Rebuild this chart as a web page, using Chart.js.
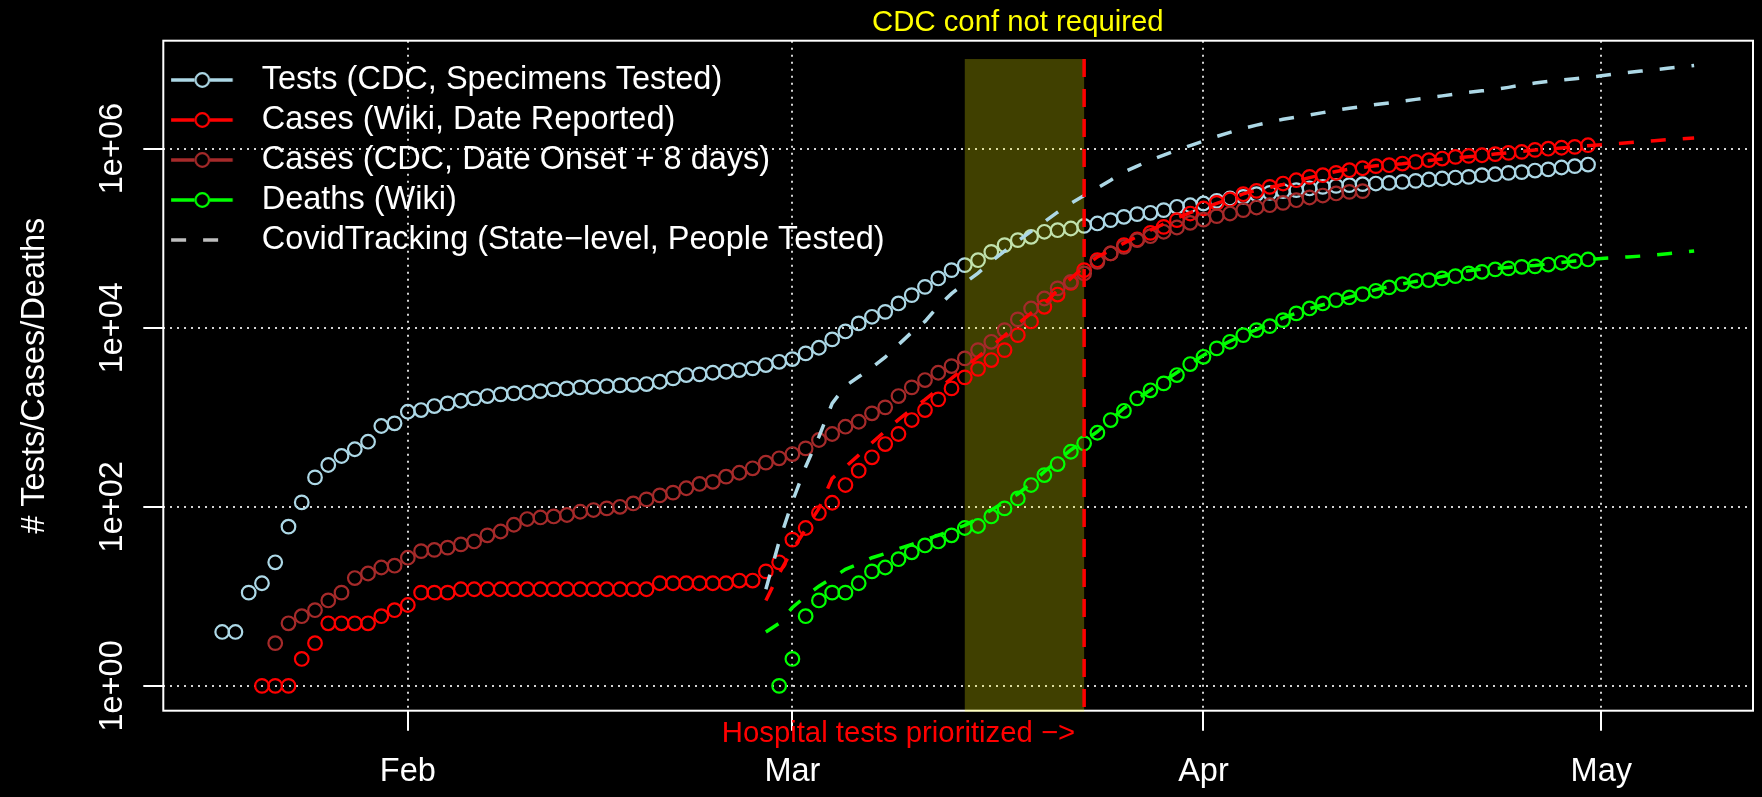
<!DOCTYPE html>
<html><head><meta charset="utf-8">
<script src="https://cdn.jsdelivr.net/npm/chart.js@4.4.1/dist/chart.umd.min.js"></script>
<style>html,body{margin:0;padding:0;background:#000;}canvas{display:block;}</style>
</head><body>
<canvas id="c" width="1762" height="797"></canvas>
<script>
const FONT = '"Liberation Sans", Arial, Helvetica, sans-serif';

// ---- axis ticks ----
const tickDates  = ['2020-02-01', '2020-03-01', '2020-04-01', '2020-05-01'];
const tickLabels = ['Feb', 'Mar', 'Apr', 'May'];
const yTickValues = [1, 100, 10000, 1000000];
const yTickLabels = ['1e+00', '1e+02', '1e+04', '1e+06'];

// ---- series (daily values, starting at the given date) ----
const testsStart = '2020-01-18';
const testsCDC = [4, 4, 11, 14, 24, 60, 112, 213, 293, 369, 439, 533, 798, 855,
  1152, 1203, 1333, 1429, 1528, 1625, 1725, 1802, 1849, 1877, 1960, 2048, 2100, 2157, 2188, 2228, 2269, 2304, 2348,
  2490, 2716, 2958, 3013, 3139, 3220, 3364, 3514, 3826, 4160,
  4462, 5166, 5970, 7400, 9080, 11170, 13240, 15030, 18660, 23120, 28580, 35480, 43950, 50000, 56750, 70310, 83560, 95060, 103500, 117800, 122700, 128200, 137100,
  145900, 158900, 173000, 185400, 191900, 205600, 223900, 233300,
  243800, 260600, 277300, 289100, 309700, 320600, 335000, 343600, 358900, 374100,
  383700, 390800, 400900, 407400, 414000, 424600, 436500, 451900, 463400, 475300,
  483100, 504700, 517600, 535800, 545800, 568900, 586100, 615200, 636800, 663700];

const casesWikiStart = '2020-01-21';
const casesWiki = [1, 1, 1, 2, 3, 5, 5, 5, 5, 6, 7,
  8, 11, 11, 11,
  12, 12, 12, 12, 12, 12, 12, 12, 12, 12, 12, 12, 12, 12, 12,
  14, 14, 14, 14, 14, 14,
  15, 15, 19, 24,
  43, 58, 85, 111, 175, 253, 357, 502, 650, 931, 1203, 1584, 2100, 2788,
  3470, 4350, 5620, 8260, 11750, 17100, 23440, 31620,
  43950, 56750, 67450, 83560, 96600, 114600, 133700, 158900, 188400, 214300,
  247700, 270400, 309700, 337300, 374100, 407400, 443600, 483100, 504700, 535800,
  574100, 603900, 636800, 653100, 680800, 711200, 743000, 774500, 809100, 829900,
  843400, 867000, 895400, 918400, 968300, 997700, 1023000, 1045000, 1091000];

const casesCDCStart = '2020-01-22';
const casesCDC = [3, 5, 6, 7, 9, 11, 16, 18, 21, 22,
  27, 32, 33, 35, 38, 41, 48, 53, 63, 73,
  76, 78, 81, 88, 92, 96, 100, 109, 121, 134,
  144, 161, 180, 190, 217, 240, 269, 311, 348, 388,
  449, 557, 650, 784, 891, 1106, 1290, 1725, 2157, 2602,
  3139, 3727, 4540, 5620, 6960, 9400, 12380, 16400, 21200, 27500,
  32500, 40360, 54450, 67450, 79980, 95060, 105200, 117800, 131500, 148300,
  161400, 176200, 188400, 205600, 219800, 233300, 247700, 265500, 284400, 299200,
  315500, 328900, 335000];

const deathsStart = '2020-02-29';
const deathsWiki = [1, 2, 6, 9, 11, 11, 14, 19, 21, 26,
  31, 37, 41, 48, 58, 61, 78, 96, 124, 175,
  226, 300, 412, 511, 671, 930, 1180, 1625, 2000, 2388,
  2958, 3926, 4732, 5875, 6962, 8267, 9397, 10420, 12160, 14450,
  16410, 18660, 20330, 21790, 23710, 25820, 28180, 30690, 33370, 33970,
  35480, 37670, 40380, 42070, 44770, 45920, 47840, 48420, 50700, 53090,
  55340, 57810];

const ctStart = '2020-02-28';
const ctTests = [12, 41, 114, 280, 606, 1430, 2230, 2830, 3600, 4680,
  6460, 8900, 11750, 17400, 24000, 31600, 40700, 55100, 71600, 92700,
  119000, 152000, 195000, 245000, 299000, 363000, 444000, 550000, 638000, 741000,
  845000, 957000, 1081000, 1216000, 1368000, 1517000, 1683000, 1828000, 1977000, 2123000,
  2244000, 2377000, 2523000, 2679000, 2825000, 2958000, 3105000, 3243000, 3396000, 3548000,
  3707000, 3882000, 4074000, 4256000, 4416000, 4571000, 4831000, 5129000, 5395000, 5623000,
  5848000, 6039000, 6252000, 6501000, 6792000, 7079000, 7345000, 7603000, 7889000, 8166000, 8472000];
const ctCases = [9, 18, 33, 56, 96, 208, 279, 378, 518, 701,
  942, 1228, 1574, 2061, 2723, 3589, 4732, 6194, 8147, 11040,
  14560, 18490, 26300, 35480, 47860, 61660, 73620, 87900, 104200, 122700,
  143900, 167100, 192800, 216800, 244300, 276100, 312600, 343600, 369000, 398100,
  434500, 474200, 514000, 555900, 590200, 618000, 644200, 660700, 677600, 704700,
  736200, 763800, 787000, 810900, 839500, 869000, 899500, 933300, 963900, 988600,
  1014000, 1045000, 1079000, 1107000, 1132000, 1161000, 1194000, 1227000, 1259000, 1285000, 1312000];
const ctDeaths = [4, 5, 7.5, 10, 13, 16, 20, 23, 27, 30,
  34, 38, 43, 48, 55, 62, 74, 92, 113, 139,
  182, 247, 326, 431, 545, 689, 938, 1262, 1596, 2018,
  2529, 3162, 3972, 4920, 5916, 7079, 8222, 9528, 11070, 12850,
  14520, 16260, 18030, 19910, 21980, 24210, 26610, 28770, 30830, 32890,
  34990, 37240, 40180, 43350, 45190, 46030, 47100, 48530, 49550, 51520,
  53460, 55590, 57540, 59160, 60530, 61660, 63100, 64860, 66990, 69340, 71940];

// ---- annotations ----
const shadeFrom = '2020-03-14';
const shadeTo = '2020-03-23';
const shadeTop = 1e7;
const topNote = 'CDC conf not required';
const topNoteDate = '2020-03-18';
const bottomNote = 'Hospital tests prioritized −>';
const bottomNoteDate = '2020-03-09';

const legendTexts = ['Tests (CDC, Specimens Tested)', 'Cases (Wiki, Date Reported)',
  'Cases (CDC, Date Onset + 8 days)', 'Deaths (Wiki)', 'CovidTracking (State−level, People Tested)'];

// ---- helpers ----
function dayOf(s) { const [y, m, d] = s.split('-').map(Number); return (Date.UTC(y, m - 1, d) - Date.UTC(2020, 1, 1)) / 86400000; }
function series(start, vals) { const d0 = dayOf(start); return vals.map((v, i) => ({x: d0 + i, y: v})); }

const COL = {tests: '#ADD8E6', wiki: '#FF0000', cdc: '#A52A2A', deaths: '#00FF00', gray: '#BEBEBE'};

// axis ranges (R style: data range +/- 4%)
const xFirst = dayOf(testsStart), xLast = dayOf(ctStart) + ctTests.length - 1;
const xPad = 0.04 * (xLast - xFirst);
const allVals = [].concat(testsCDC, casesWiki, casesCDC, deathsWiki, ctTests, ctCases, ctDeaths);
const lMin = Math.log10(Math.min(...allVals)), lMax = Math.log10(Math.max(...allVals));
const lPad = 0.04 * (lMax - lMin);

// layout of the plot region
const AREA = {left: 163.3, top: 40.7, rightGap: 2, bottomH: 86.3};

function pts(label, data, color, order) {
  return {label, data, showLine: false, borderColor: color, backgroundColor: 'rgba(0,0,0,0)',
    pointStyle: 'circle', pointRadius: 6.8, pointHoverRadius: 6.8, pointBorderWidth: 2.2,
    pointBorderColor: color, pointBackgroundColor: 'rgba(0,0,0,0)', order};
}
function dash(label, data, color, order) {
  return {label, data, borderColor: color, borderWidth: 3.5, borderDash: [15, 17], borderCapStyle: 'butt',
    pointRadius: 0, pointHoverRadius: 0, tension: 0, fill: false, order};
}

function legendSymbol(color, dashed) {
  const c = document.createElement('canvas'); c.width = 76; c.height = 24;
  const g = c.getContext('2d');
  g.strokeStyle = color;
  if (dashed) {
    g.lineWidth = 3.5; g.setLineDash([15, 17]);
    g.beginPath(); g.moveTo(1, 12); g.lineTo(63, 12); g.stroke();
  } else {
    g.lineWidth = 3.3;
    g.beginPath(); g.moveTo(1, 12); g.lineTo(24.4, 12); g.moveTo(40, 12); g.lineTo(62.6, 12); g.stroke();
    g.lineWidth = 2.2; g.beginPath(); g.arc(32.2, 12, 6.8, 0, 2 * Math.PI); g.stroke();
  }
  return c;
}
const legendSyms = [legendSymbol(COL.tests), legendSymbol(COL.wiki), legendSymbol(COL.cdc),
  legendSymbol(COL.deaths), legendSymbol(COL.gray, true)];

const decor = {
  id: 'rDecor',
  afterLayout(chart) {
    const L = chart.legend, a = chart.chartArea;
    if (L) { L.left = a.left; L.top = a.top; L.right = a.right; L.bottom = a.bottom; }
  },
  beforeDatasetsDraw(chart) {
    const {ctx, chartArea: a} = chart;
    ctx.save(); ctx.strokeStyle = '#ffffff'; ctx.lineWidth = 2; ctx.setLineDash([]);
    ctx.strokeRect(a.left, a.top, a.right - a.left, a.bottom - a.top);
    ctx.restore();
  },
  afterDatasetDraw(chart, args) {
    if (args.index !== 0) return;
    const {ctx, chartArea: a, scales: {x, y}} = chart;
    const x0 = x.getPixelForValue(dayOf(shadeFrom)), x1 = x.getPixelForValue(dayOf(shadeTo));
    const yt = y.getPixelForValue(shadeTop);
    ctx.save();
    ctx.fillStyle = 'rgba(255,255,0,0.25)';
    ctx.fillRect(x0, yt, x1 - x0, a.bottom + 1 - yt);
    ctx.restore();
  },
  afterDatasetsDraw(chart) {
    const {ctx, chartArea: a, scales: {x, y}} = chart;
    const xl = x.getPixelForValue(dayOf(shadeTo));
    const yt = y.getPixelForValue(shadeTop);
    ctx.save();
    ctx.strokeStyle = '#FF0000'; ctx.lineWidth = 3.5; ctx.setLineDash([18, 12]); ctx.lineCap = 'butt';
    ctx.beginPath(); ctx.moveTo(xl, yt); ctx.lineTo(xl, a.bottom); ctx.stroke();
    ctx.restore();
  },
  afterDraw(chart) {
    const {ctx, chartArea: a, scales: {x}} = chart;
    ctx.save();
    ctx.font = '29.3px ' + FONT; ctx.textAlign = 'center'; ctx.textBaseline = 'middle';
    ctx.fillStyle = '#FFFF00';
    ctx.fillText(topNote, x.getPixelForValue(dayOf(topNoteDate)), a.top - 18);
    ctx.fillStyle = '#FF0000';
    ctx.fillText(bottomNote, x.getPixelForValue(dayOf(bottomNoteDate)), a.bottom + 23);
    ctx.restore();
  }
};

const chart = new Chart(document.getElementById('c'), {
  type: 'line',
  data: {
    datasets: [
      pts(legendTexts[0], series(testsStart, testsCDC), COL.tests, 7),
      pts(legendTexts[1], series(casesWikiStart, casesWiki), COL.wiki, 6),
      pts(legendTexts[2], series(casesCDCStart, casesCDC), COL.cdc, 5),
      pts(legendTexts[3], series(deathsStart, deathsWiki), COL.deaths, 4),
      dash('CovidTracking tests', series(ctStart, ctTests), COL.tests, 3),
      dash('CovidTracking cases', series(ctStart, ctCases), COL.wiki, 2),
      dash('CovidTracking deaths', series(ctStart, ctDeaths), COL.deaths, 1)
    ]
  },
  options: {
    responsive: false, animation: false, devicePixelRatio: 1, events: [],
    layout: {padding: {top: AREA.top, right: AREA.rightGap, left: 0, bottom: 0}},
    scales: {
      x: {
        type: 'linear', min: xFirst - xPad, max: xLast + xPad,
        afterBuildTicks: s => { s.ticks = tickDates.map(d => ({value: dayOf(d)})); },
        afterFit: s => { s.height = AREA.bottomH; s.paddingLeft = 0; s.paddingRight = 0; },
        ticks: {callback: (v, i) => tickLabels[i], color: '#ffffff', font: {size: 32.5, family: FONT},
          padding: 21.5, maxRotation: 0, minRotation: 0, autoSkip: false},
        grid: {color: '#d3d3d3', lineWidth: 2, tickLength: 20, tickColor: '#ffffff', tickWidth: 2, tickBorderDash: []},
        border: {display: false, dash: [2, 5]}
      },
      y: {
        type: 'logarithmic', min: Math.pow(10, lMin - lPad), max: Math.pow(10, lMax + lPad),
        afterBuildTicks: s => { s.ticks = yTickValues.map(v => ({value: v})); },
        afterFit: s => { s.width = AREA.left; s.paddingTop = 0; s.paddingBottom = 0; },
        ticks: {callback: (v, i) => yTickLabels[i], color: '#ffffff', font: {size: 32.5, family: FONT},
          minRotation: 90, maxRotation: 90, crossAlign: 'center', padding: -15.3, autoSkip: false},
        grid: {color: '#d3d3d3', lineWidth: 2, tickLength: 20, tickColor: '#ffffff', tickWidth: 2, tickBorderDash: []},
        border: {display: false, dash: [2, 5]},
        title: {display: true, text: '# Tests/Cases/Deaths', color: '#ffffff', font: {size: 32.5, family: FONT},
          padding: {top: 15.5, bottom: 0}}
      }
    },
    plugins: {
      tooltip: {enabled: false},
      legend: {
        position: 'chartArea', align: 'start', fullSize: false,
        title: {display: true, text: '', font: {size: 12, lineHeight: 1}, padding: {top: 0, bottom: 3.55}},
        labels: {
          usePointStyle: true, pointStyleWidth: 74.65, padding: 7.5,
          font: {size: 32.5, family: FONT}, color: '#ffffff',
          generateLabels: () => legendTexts.map((t, i) => ({
            text: t, pointStyle: legendSyms[i], fontColor: '#ffffff', hidden: false,
            lineWidth: 0, fillStyle: 'rgba(0,0,0,0)', strokeStyle: 'rgba(0,0,0,0)', datasetIndex: i < 4 ? i : 4
          }))
        }
      }
    }
  },
  plugins: [decor]
});

// make the plot region land exactly where the reference has it
for (let k = 0; k < 3; k++) {
  const a = chart.chartArea;
  const errR = a.right - (chart.width - AREA.rightGap);
  const errT = AREA.top - a.top;
  if (Math.abs(errR) < 0.2 && Math.abs(errT) < 0.2) break;
  const p = chart.config.options.layout.padding;
  p.right += errR; p.top += errT;
  chart.update();
}
</script>
</body></html>
